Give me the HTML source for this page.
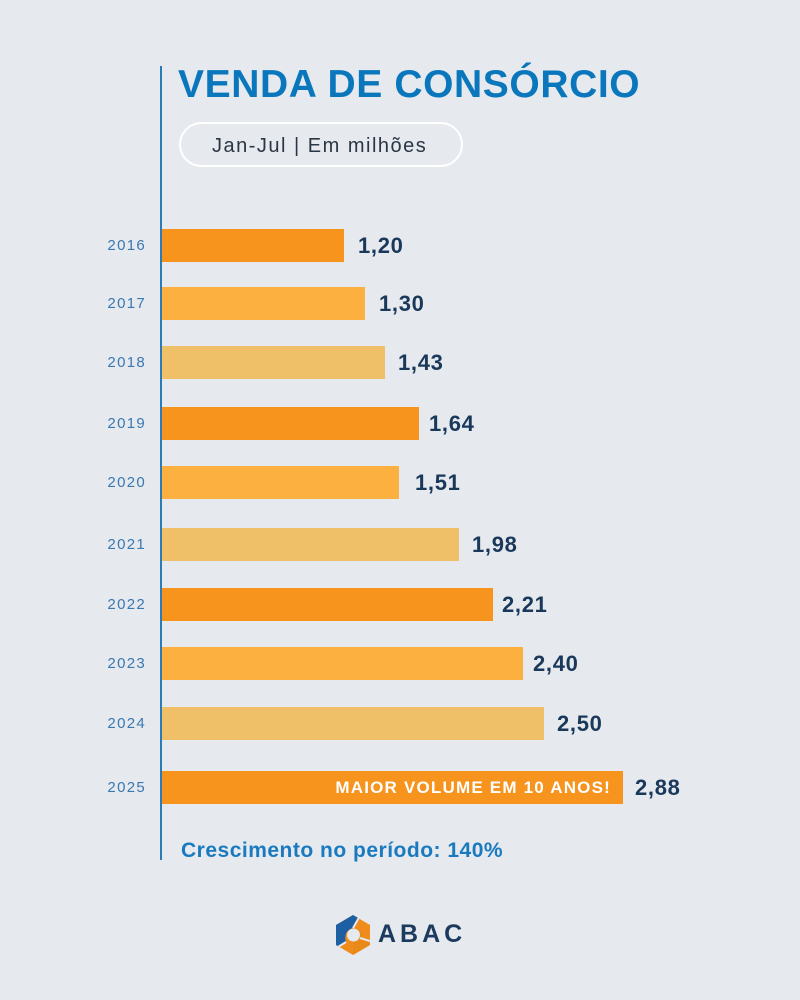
<!DOCTYPE html>
<html><head><meta charset="utf-8">
<style>
html,body{margin:0;padding:0;}
body{width:800px;height:1000px;background:#e6e9ee;position:relative;overflow:hidden;font-family:"Liberation Sans",sans-serif;}
.a{position:absolute;white-space:nowrap;}
.vline{left:160px;top:66px;width:2px;height:794px;background:#2b7bb8;}
.title{left:178px;top:65px;height:40px;line-height:40px;font-size:39px;font-weight:bold;color:#0a77bd;letter-spacing:0.6px;}
.pill{left:179px;top:122px;width:280px;height:41px;border:2px solid #ffffff;border-radius:23px;}
.pilltxt{left:212px;top:131px;height:30px;line-height:30px;font-size:20px;color:#2a3644;letter-spacing:1.5px;}
.yr{left:90px;width:56px;text-align:right;height:33px;line-height:33px;font-size:15px;color:#3a78b0;letter-spacing:1.3px;}
.bar{left:162px;height:33px;}
.d{background:#f7941d;}
.m{background:#fbb040;}
.l{background:#efc068;}
.val{height:33px;line-height:33px;font-size:22px;font-weight:bold;color:#19385a;letter-spacing:0.7px;}
.maior{left:300px;width:311px;text-align:right;top:771px;height:33px;line-height:33px;font-size:17px;font-weight:bold;color:#ffffff;letter-spacing:1.2px;}
.cres{left:181px;top:836px;height:30px;line-height:30px;font-size:21px;font-weight:bold;color:#1a7abf;letter-spacing:0.5px;}
.abac{left:378px;top:919px;height:30px;line-height:30px;font-size:25px;font-weight:bold;color:#1c3a5e;letter-spacing:4px;}
</style></head><body>
<div class="a vline"></div>
<div class="a title">VENDA DE CONSÓRCIO</div>
<div class="a pill"></div>
<div class="a pilltxt">Jan-Jul | Em milhões</div>

<div class="a yr" style="top:229px">2016</div>
<div class="a bar d" style="top:229px;width:182px"></div>
<div class="a val" style="top:229px;left:358px">1,20</div>

<div class="a yr" style="top:287px">2017</div>
<div class="a bar m" style="top:287px;width:203px"></div>
<div class="a val" style="top:287px;left:379px">1,30</div>

<div class="a yr" style="top:346px">2018</div>
<div class="a bar l" style="top:346px;width:223px"></div>
<div class="a val" style="top:346px;left:398px">1,43</div>

<div class="a yr" style="top:407px">2019</div>
<div class="a bar d" style="top:407px;width:257px"></div>
<div class="a val" style="top:407px;left:429px">1,64</div>

<div class="a yr" style="top:466px">2020</div>
<div class="a bar m" style="top:466px;width:237px"></div>
<div class="a val" style="top:466px;left:415px">1,51</div>

<div class="a yr" style="top:528px">2021</div>
<div class="a bar l" style="top:528px;width:297px"></div>
<div class="a val" style="top:528px;left:472px">1,98</div>

<div class="a yr" style="top:588px">2022</div>
<div class="a bar d" style="top:588px;width:331px"></div>
<div class="a val" style="top:588px;left:502px">2,21</div>

<div class="a yr" style="top:647px">2023</div>
<div class="a bar m" style="top:647px;width:361px"></div>
<div class="a val" style="top:647px;left:533px">2,40</div>

<div class="a yr" style="top:707px">2024</div>
<div class="a bar l" style="top:707px;width:382px"></div>
<div class="a val" style="top:707px;left:557px">2,50</div>

<div class="a yr" style="top:771px">2025</div>
<div class="a bar d" style="top:771px;width:461px"></div>
<div class="a maior">MAIOR VOLUME EM 10 ANOS!</div>
<div class="a val" style="top:771px;left:635px">2,88</div>

<div class="a cres">Crescimento no período: 140%</div>

<svg class="a" style="left:333px;top:914px" width="40" height="42" viewBox="0 0 40 42">
  <defs>
    <clipPath id="hx"><polygon points="20,1 37,11 37,31 20,41 3,31 3,11"/></clipPath>
  </defs>
  <g clip-path="url(#hx)">
    <rect x="0" y="0" width="40" height="42" fill="#f08c1c"/>
    <path d="M0,0 L28,0 L20,14 C13,16 11,22 13,28 L0,36 Z" fill="#1d5fa3"/>
    <path d="M20,14 C27,13 31,19 28,25 L40,28 L40,42 L20,42 Z" fill="#e9891a"/>
    <circle cx="20.5" cy="21" r="6.5" fill="#e6e9ee"/>
    <path d="M20,14 L28,0" stroke="#e6e9ee" stroke-width="2" fill="none"/>
    <path d="M13,28 L0,36" stroke="#e6e9ee" stroke-width="2" fill="none"/>
    <path d="M27,24 L40,28" stroke="#e6e9ee" stroke-width="2" fill="none"/>
  </g>
</svg>
<div class="a abac">ABAC</div>
</body></html>
